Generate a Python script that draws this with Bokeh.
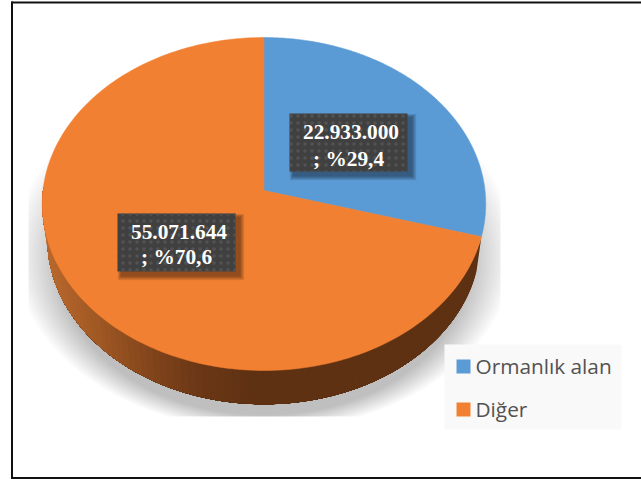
import numpy as np
from bokeh.plotting import figure
from bokeh.models import Range1d
from bokeh.core.properties import value
from bokeh.embed import file_html
from bokeh.resources import INLINE

categories = ["Ormanlık alan", "Diğer"]
values = [22933000, 55071644]
line1 = ["22.933.000", "55.071.644"]
line2 = ["; %29,4", "; %70,6"]
colors = ["#5B9BD5", "#F28033"]

W, H = 641, 479
p = figure(width=W, height=H, output_backend="svg", toolbar_location=None,
           x_range=Range1d(0, W), y_range=Range1d(H, 0),
           x_axis_type=None, y_axis_type=None, min_border=0,
           outline_line_color=None, background_fill_color="white",
           border_fill_color="white", margin=(0, 0, 0, 0))
p.grid.visible = False

# pie projection (pixel layout)
CX, CY, A, B, K = 263.5, 190.0, 221.0, 150.0, 0.0811
A2, B2, D2 = 216.0, 146.0, 35.0


def top(t):
    u, v = np.sin(t), np.cos(t)
    w = 1 + K * v
    return CX + A * u / w, (CY - B * v) / w


def bot(t):
    u, v = np.sin(t), np.cos(t)
    w = 1 + K * v
    return CX + A2 * u / w, (CY + D2 - B2 * v) / w


total = sum(values)
angles = np.concatenate([[0], np.cumsum(values) / total * 2 * np.pi])

# soft shadow, clipped to its bitmap box as in the reference
n = 16
for i in range(n):
    f = i / (n - 1)
    a = 250 + (205 - 250) * f
    b = 180 + (150 - 180) * f
    cy = 250 + (265 - 250) * f
    t = np.linspace(0, 2 * np.pi, 180)
    xs = np.clip(CX + a * np.sin(t), 28, 500)
    ys = np.clip(cy + b * np.cos(t), 0, 416)
    p.patch(xs, ys, fill_color="black", fill_alpha=0.016, line_color=None)

# wall of the large slice: overlapping shapes, painted from the right, leave no seams
stops_x = [42, 100, 150, 200, 260, 490]
stops_rgb = np.array([[186, 106, 46], [160, 88, 36], [132, 70, 28],
                      [108, 56, 22], [94, 49, 19], [94, 49, 19]], float)
t_end = 3 * np.pi / 2 + 0.02
ts = np.linspace(angles[1], t_end, 90)
for t0 in ts[:-1]:
    tt = np.linspace(t0, t_end, 120)
    xa, ya = top(tt)
    xb, yb = bot(tt[::-1])
    rgb = [int(np.interp(xa[0], stops_x, stops_rgb[:, c])) for c in range(3)]
    p.patch(np.r_[xa, xb], np.r_[ya, yb], fill_color="#%02x%02x%02x" % tuple(rgb), line_color=None)

# top surface
for i in range(2):
    t = np.linspace(angles[i], angles[i + 1], 200)
    x, y = top(t)
    p.patch(np.r_[CX, x], np.r_[CY, y], fill_color=colors[i], line_color=colors[i], line_width=0.5)

# data labels
boxes = [(289, 407, 113, 171), (117, 235, 213, 271)]
txt1 = [(350.5, 131), (178.5, 231)]
txt2 = [(348, 158), (176, 256)]
for i in range(2):
    l, r, t, b = boxes[i]
    for g in range(6):
        e = 6 - g
        p.quad(left=l + 4 - e * 0.6, right=r + 4 + e * 0.8, top=t + 4 - e * 0.6, bottom=b + 4 + e * 0.8,
               fill_color="black", fill_alpha=0.08, line_color=None)
    p.quad(left=l, right=r, top=t, bottom=b, fill_color="#404040", line_color=None,
           hatch_pattern="dot", hatch_color="#525252", hatch_scale=7, hatch_weight=1.2)
    p.text([txt1[i][0]], [txt1[i][1]], text=[line1[i]], text_font=value("Liberation Serif"),
           text_font_style="bold", text_font_size="21.33px", text_color="white",
           text_align="center", text_baseline="middle")
    p.text([txt2[i][0]], [txt2[i][1]], text=[line2[i]], text_font=value("Liberation Serif"),
           text_font_style="bold", text_font_size="21.33px", text_color="white",
           text_align="center", text_baseline="middle")

# legend
p.quad(left=444, right=621, top=344, bottom=429, fill_color="#f9f9f9", line_color=None)
leg_y = [366, 409]
text_y = [365.5, 408]
for i in range(2):
    p.quad(left=456, right=470, top=leg_y[i] - 7, bottom=leg_y[i] + 7, fill_color=colors[i], line_color=None)
    p.text([475], [text_y[i]], text=[categories[i]], text_font=value("Open Sans"), text_font_size="20.8px",
           text_color="#525252", text_align="left", text_baseline="middle")

# outer frame (no right edge in the reference)
p.segment([11.5, 11, 11], [1, 2, 477.5], [11.5, 641, 641], [479, 2, 477.5], line_color="#111111", line_width=2)

open("out.html", "w").write(file_html(p, INLINE))
